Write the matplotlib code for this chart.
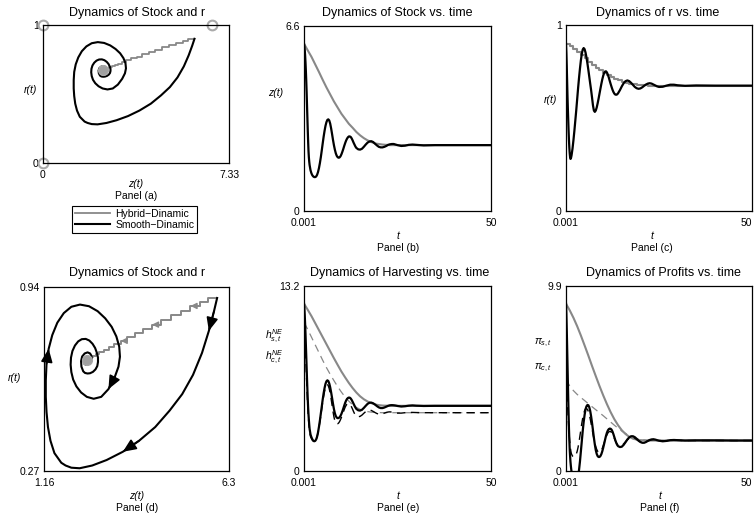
import numpy as np
import matplotlib
matplotlib.use('Agg')
import matplotlib.pyplot as plt
from matplotlib.lines import Line2D

plt.rcParams['font.family'] = ['Liberation Sans', 'DejaVu Sans']
plt.rcParams['mathtext.fontset'] = 'custom'
plt.rcParams['mathtext.rm'] = 'Liberation Sans'
plt.rcParams['mathtext.it'] = 'Liberation Sans:italic'
plt.rcParams['mathtext.bf'] = 'Liberation Sans:bold'

# ---------------- data: smooth dynamic ----------------
t_fine = [0.001, 0.1, 0.2, 0.3, 0.4, 0.5, 0.6, 0.7, 0.8, 0.9,
          1.0, 1.1, 1.2, 1.3, 1.4, 1.5, 1.75, 2.0,
          2.25, 2.5, 2.75, 3.0, 3.25, 3.5, 3.75, 4.0, 4.25, 4.5,
          4.75, 5.0, 5.25, 5.5, 5.75, 6.0, 6.25, 6.5, 6.75, 7.0,
          7.25, 7.5, 7.75, 8.0, 8.25, 8.5, 8.75, 9.0, 9.25, 9.5,
          9.75, 10.0, 10.25, 10.5, 10.75, 11.0, 11.25, 11.5, 11.75, 12.0,
          12.25, 12.5, 12.75, 13.0, 13.25, 13.5, 13.75, 14.0, 14.5, 15.0,
          15.5, 16.0, 16.5, 17.0, 17.5, 18.0, 18.5, 19.0, 19.5, 20.0,
          20.5, 21.0, 21.5, 22.0, 22.5, 23.0, 23.5, 24.0, 24.5, 25.0,
          26, 27, 28, 29, 30, 32, 35, 40, 45, 50]

z_smooth = [5.97, 5.88, 5.74, 5.55, 5.30, 5.00, 4.65, 4.25, 3.80, 3.35,
            2.90, 2.50, 2.15, 1.92, 1.76, 1.64, 1.45, 1.34,
            1.27, 1.23, 1.21, 1.21, 1.23, 1.29, 1.39, 1.53, 1.71, 1.92,
            2.16, 2.41, 2.65, 2.86, 3.04, 3.17, 3.25, 3.27, 3.23, 3.12,
            2.95, 2.75, 2.54, 2.35, 2.19, 2.06, 1.97, 1.92, 1.90, 1.91,
            1.95, 2.02, 2.11, 2.21, 2.32, 2.42, 2.51, 2.58, 2.63, 2.66,
            2.66, 2.64, 2.59, 2.52, 2.44, 2.37, 2.30, 2.25, 2.20, 2.19,
            2.22, 2.29, 2.37, 2.44, 2.48, 2.49, 2.46, 2.40, 2.34, 2.29,
            2.27, 2.27, 2.29, 2.32, 2.36, 2.38, 2.39, 2.39, 2.37, 2.35,
            2.32, 2.33, 2.36, 2.37, 2.36, 2.34, 2.35, 2.35, 2.35, 2.35]

r_smooth = [0.900, 0.850, 0.780, 0.700, 0.620, 0.550, 0.490, 0.430, 0.380, 0.340,
            0.310, 0.290, 0.280, 0.282, 0.290, 0.300, 0.335, 0.380,
            0.430, 0.485, 0.540, 0.600, 0.660, 0.715, 0.765, 0.810, 0.845, 0.868,
            0.876, 0.870, 0.852, 0.826, 0.795, 0.760, 0.723, 0.686, 0.650, 0.610,
            0.568, 0.540, 0.533, 0.540, 0.556, 0.578, 0.603, 0.630, 0.657, 0.683,
            0.707, 0.727, 0.742, 0.750, 0.751, 0.745, 0.733, 0.718, 0.700, 0.683,
            0.667, 0.652, 0.640, 0.631, 0.626, 0.625, 0.627, 0.633, 0.650, 0.670,
            0.687, 0.698, 0.702, 0.698, 0.689, 0.678, 0.667, 0.660, 0.657, 0.659,
            0.665, 0.673, 0.680, 0.685, 0.687, 0.685, 0.680, 0.675, 0.670, 0.667,
            0.668, 0.674, 0.679, 0.679, 0.676, 0.673, 0.675, 0.674, 0.674, 0.674]

hs_smooth = [11.94, 11.6, 11.1, 10.5, 9.8, 9.0, 8.2, 7.4, 6.6, 5.85,
             5.15, 4.55, 4.05, 3.65, 3.3, 3.0, 2.6, 2.4,
             2.25, 2.15, 2.12, 2.15, 2.25, 2.45, 2.75, 3.15, 3.6, 4.1,
             4.6, 5.1, 5.55, 5.92, 6.22, 6.40, 6.47, 6.42, 6.25, 5.98,
             5.62, 5.22, 4.8, 4.42, 4.12, 3.92, 3.81, 3.77, 3.78, 3.83,
             3.93, 4.07, 4.25, 4.45, 4.66, 4.86, 5.02, 5.14, 5.21, 5.24,
             5.23, 5.17, 5.07, 4.94, 4.80, 4.66, 4.53, 4.43, 4.33, 4.31,
             4.37, 4.50, 4.65, 4.79, 4.87, 4.88, 4.83, 4.74, 4.63, 4.54,
             4.49, 4.49, 4.53, 4.59, 4.65, 4.69, 4.70, 4.69, 4.67, 4.64,
             4.60, 4.62, 4.66, 4.68, 4.66, 4.64, 4.65, 4.65, 4.65, 4.65]

hc_smooth = [10.6, 10.3, 9.85, 9.3, 8.65, 7.95, 7.2, 6.5, 5.8, 5.15,
             4.6, 4.1, 3.7, 3.35, 3.05, 2.8, 2.45, 2.32,
             2.2, 2.1, 2.08, 2.12, 2.24, 2.44, 2.72, 3.08, 3.5, 3.96,
             4.44, 4.9, 5.32, 5.68, 5.96, 6.12, 6.16, 6.08, 5.87, 5.55,
             5.15, 4.7, 4.25, 3.87, 3.58, 3.42, 3.36, 3.37, 3.42, 3.52,
             3.66, 3.82, 4.0, 4.19, 4.38, 4.55, 4.68, 4.77, 4.81, 4.81,
             4.77, 4.68, 4.55, 4.40, 4.24, 4.10, 3.99, 3.92, 3.87, 3.90,
             3.99, 4.12, 4.24, 4.32, 4.35, 4.32, 4.25, 4.17, 4.10, 4.06,
             4.05, 4.08, 4.13, 4.18, 4.21, 4.22, 4.20, 4.17, 4.14, 4.13,
             4.13, 4.16, 4.18, 4.18, 4.17, 4.16, 4.16, 4.16, 4.16, 4.16]

pis_smooth = [8.95, 8.4, 7.6, 6.7, 5.75, 4.8, 3.85, 3.0, 2.25, 1.65,
              1.15, 0.8, 0.5, 0.28, 0.1, -0.05, -0.4, -0.65,
              -0.8, -0.8, -0.7, -0.5, -0.25, 0.05, 0.5, 1.05, 1.6, 2.15,
              2.62, 3.0, 3.3, 3.46, 3.53, 3.52, 3.42, 3.22, 2.93, 2.57,
              2.18, 1.78, 1.42, 1.12, 0.92, 0.80, 0.75, 0.75, 0.80, 0.90,
              1.05, 1.24, 1.45, 1.67, 1.88, 2.05, 2.17, 2.24, 2.27, 2.26,
              2.21, 2.11, 1.97, 1.81, 1.65, 1.51, 1.40, 1.33, 1.28, 1.30,
              1.40, 1.54, 1.69, 1.80, 1.86, 1.86, 1.81, 1.72, 1.62, 1.55,
              1.51, 1.51, 1.55, 1.61, 1.66, 1.69, 1.70, 1.68, 1.65, 1.62,
              1.59, 1.61, 1.65, 1.66, 1.65, 1.63, 1.64, 1.64, 1.63, 1.63]

pic_smooth = [4.9, 4.7, 4.4, 4.0, 3.6, 3.2, 2.8, 2.45, 2.12, 1.83,
              1.58, 1.37, 1.2, 1.07, 0.97, 0.9, 0.8, 0.76,
              0.76, 0.8, 0.9, 1.05, 1.27, 1.55, 1.88, 2.22, 2.55, 2.84,
              3.07, 3.23, 3.32, 3.34, 3.3, 3.19, 3.02, 2.8, 2.54, 2.26,
              1.98, 1.72, 1.49, 1.3, 1.16, 1.06, 1.01, 1.00, 1.03, 1.10,
              1.21, 1.35, 1.5, 1.65, 1.8, 1.93, 2.03, 2.09, 2.12, 2.11,
              2.06, 1.98, 1.87, 1.75, 1.63, 1.52, 1.44, 1.39, 1.35, 1.37,
              1.45, 1.56, 1.67, 1.76, 1.8, 1.8, 1.76, 1.69, 1.62, 1.57,
              1.54, 1.54, 1.57, 1.61, 1.65, 1.67, 1.68, 1.67, 1.65, 1.63,
              1.61, 1.62, 1.64, 1.65, 1.64, 1.63, 1.63, 1.63, 1.63, 1.63]

# ---------------- data: hybrid dynamic ----------------
t_hyb = [0.001, 1, 2, 3, 4, 5, 6, 7, 8, 9, 10, 11, 12, 13, 14, 15, 16, 17, 18, 19,
         20, 21, 22, 23, 24, 26, 28, 30, 35, 40, 45, 50]
z_hyb = [5.97, 5.73, 5.50, 5.23, 4.96, 4.68, 4.41, 4.16, 3.91, 3.69, 3.47, 3.29, 3.11,
         2.97, 2.82, 2.70, 2.60, 2.52, 2.46, 2.41, 2.39, 2.37, 2.36, 2.35, 2.35,
         2.35, 2.35, 2.35, 2.35, 2.35, 2.35, 2.35]
r_hyb = [0.900, 0.885, 0.871, 0.854, 0.837, 0.820, 0.803, 0.787, 0.771, 0.758, 0.744,
         0.733, 0.721, 0.712, 0.703, 0.696, 0.690, 0.685, 0.681, 0.678, 0.676, 0.675,
         0.674, 0.674, 0.674, 0.674, 0.674, 0.674, 0.674, 0.674, 0.674, 0.674]
hs_hyb = [11.94, 11.5, 11.05, 10.55, 10.05, 9.55, 9.05, 8.55, 8.05, 7.57, 7.1, 6.68, 6.28,
          5.92, 5.6, 5.33, 5.12, 4.96, 4.84, 4.75, 4.7, 4.67, 4.66, 4.65, 4.65,
          4.65, 4.65, 4.65, 4.65, 4.65, 4.65, 4.65]
hc_hyb = [10.6, 10.1, 9.55, 9.0, 8.45, 7.9, 7.38, 6.9, 6.45, 6.02, 5.63, 5.28, 4.98,
          4.73, 4.54, 4.40, 4.30, 4.24, 4.20, 4.18, 4.17, 4.16, 4.16, 4.16, 4.16,
          4.16, 4.16, 4.16, 4.16, 4.16, 4.16, 4.16]
pis_hyb = [8.95, 8.6, 8.2, 7.75, 7.25, 6.72, 6.18, 5.62, 5.08, 4.55, 4.05, 3.58, 3.15,
           2.77, 2.45, 2.18, 1.98, 1.83, 1.73, 1.68, 1.65, 1.64, 1.63, 1.63, 1.63,
           1.63, 1.63, 1.63, 1.63, 1.63, 1.63, 1.63]
pic_hyb = [4.9, 4.55, 4.3, 4.1, 3.93, 3.77, 3.6, 3.44, 3.28, 3.12, 2.96, 2.79, 2.62,
           2.45, 2.29, 2.14, 2.01, 1.9, 1.81, 1.74, 1.69, 1.66, 1.64, 1.63, 1.63,
           1.63, 1.63, 1.63, 1.63, 1.63, 1.63, 1.63]

# equilibria / markers
eq_z, eq_r = 2.35, 0.674
steady_z = [0, 0, 6.67]
steady_r = [0, 1, 1]
arrow_times = [0.2, 0.9, 3.5, 7.25]
hyb_arrow_steps = [2, 6, 10]

# ---------------- figure ----------------
W, H = 756, 519
fig = plt.figure(figsize=(W / 100, H / 100), dpi=100)
GRAY = '#888888'
BLACK = 'k'


def box(l, t, r, b):
    return [l / W, 1 - b / H, (r - l) / W, (b - t) / H]


def ftext(x, y, s, **kw):
    kw.setdefault('ha', 'center')
    kw.setdefault('va', 'center')
    fig.text(x / W, 1 - y / H, s, **kw)


TSIZE = 9
LSIZE = 7.5


def style(ax, xlim, ylim, xlabels, ylabels, right_edge=False):
    ax.set_xlim(*xlim)
    ax.set_ylim(*ylim)
    ax.set_xticks(list(xlim))
    ax.set_xticklabels(xlabels)
    ax.set_yticks(list(ylim))
    ax.set_yticklabels(ylabels)
    ax.tick_params(direction='in', length=0, labelsize=LSIZE)
    ax.tick_params(axis='x', pad=5)
    ax.tick_params(axis='y', pad=3)
    if right_edge:
        ax.get_xticklabels()[-1].set_horizontalalignment('right')
    for s in ax.spines.values():
        s.set_linewidth(0.9)


t_arr = np.array(t_fine)
zs = np.array(z_smooth)
rs = np.array(r_smooth)
zh = np.array(z_hyb)
rh = np.array(r_hyb)
# staircase path of the hybrid dynamic in the phase plane
stair_z = np.repeat(zh, 2)[1:]
stair_r = np.repeat(rh, 2)[:-1]

# ---- Panel (a)
axa = fig.add_axes(box(43, 25, 229, 163))
axa.plot(stair_z, stair_r, color=GRAY, lw=1.3, zorder=2)
axa.plot(zs, rs, color=BLACK, lw=1.5, zorder=3)
axa.plot([eq_z], [eq_r], 'o', ms=7, mfc='#a0a0a0', mec='#a8a8a8', zorder=4)
axa.plot(steady_z, steady_r, 'o', ms=7, mfc='none', mec='#aaaaaa', mew=1.5,
         clip_on=False, zorder=2)
style(axa, (0, 7.33), (0, 1), ['0', '7.33'], ['0', '1'])
ftext(137, 13, 'Dynamics of Stock and r', fontsize=TSIZE)
ftext(31, 90, 'r(t)', fontsize=LSIZE, style='italic')
ftext(136, 184, 'z(t)', fontsize=LSIZE, style='italic')
ftext(136, 196, 'Panel (a)', fontsize=LSIZE)

handles = [Line2D([], [], color=GRAY, lw=1.3), Line2D([], [], color=BLACK, lw=1.5)]
leg = fig.legend(handles, ['Hybrid\u2212Dinamic', 'Smooth\u2212Dinamic'],
                 loc='center', bbox_to_anchor=(134.5 / W, 1 - 219.5 / H),
                 fontsize=LSIZE, frameon=True, fancybox=False, edgecolor='k',
                 framealpha=1, handlelength=3.4, borderpad=0.25, labelspacing=0.12,
                 handletextpad=0.5, borderaxespad=0)
leg.get_frame().set_linewidth(0.8)

# ---- Panel (b)
axb = fig.add_axes(box(304, 26, 491, 211))
axb.plot(t_hyb, z_hyb, color=GRAY, lw=1.5)
axb.plot(t_fine, z_smooth, color=BLACK, lw=1.6)
style(axb, (0.001, 50), (0, 6.6), ['0.001', '50'], ['0', '6.6'])
ftext(397, 13, 'Dynamics of Stock vs. time', fontsize=TSIZE)
ftext(276, 93, 'z(t)', fontsize=LSIZE, style='italic')
ftext(398, 236, 't', fontsize=LSIZE, style='italic')
ftext(398, 248, 'Panel (b)', fontsize=LSIZE)

# ---- Panel (c)
axc = fig.add_axes(box(566, 25, 752, 211))
axc.plot(t_hyb, r_hyb, color=GRAY, lw=1.5, drawstyle='steps-post')
axc.plot(t_fine, r_smooth, color=BLACK, lw=1.6)
style(axc, (0.001, 50), (0, 1), ['0.001', '50'], ['0', '1'], right_edge=True)
ftext(658, 13, 'Dynamics of r vs. time', fontsize=TSIZE)
ftext(551, 100, 'r(t)', fontsize=LSIZE, style='italic')
ftext(652, 236, 't', fontsize=LSIZE, style='italic')
ftext(652, 248, 'Panel (c)', fontsize=LSIZE)

# ---- Panel (d)
axd = fig.add_axes(box(44, 287, 229, 471))
axd.plot(stair_z, stair_r, color=GRAY, lw=1.4, zorder=2)
axd.plot(zs, rs, color=BLACK, lw=1.5, zorder=3)
axd.plot([eq_z], [eq_r], 'o', ms=7, mfc='#a0a0a0', mec='#a8a8a8', zorder=4)
for ta in arrow_times:
    i = int(np.argmin(np.abs(t_arr - ta)))
    axd.annotate('', xy=(zs[i], rs[i]), xytext=(zs[i - 1], rs[i - 1]),
                 arrowprops=dict(arrowstyle='-|>,head_length=0.8,head_width=0.35',
                                 color=BLACK, lw=1.2, shrinkA=0, shrinkB=0,
                                 mutation_scale=10), zorder=5)
for k in hyb_arrow_steps:
    j = 2 * k
    axd.annotate('', xy=(stair_z[j + 1], stair_r[j + 1]), xytext=(stair_z[j], stair_r[j]),
                 arrowprops=dict(arrowstyle='-|>,head_length=0.6,head_width=0.3',
                                 color=GRAY, lw=1.0, shrinkA=0, shrinkB=0,
                                 mutation_scale=6), zorder=4)
style(axd, (1.16, 6.3), (0.27, 0.94), ['1.16', '6.3'], ['0.27', '0.94'])
ftext(137, 273, 'Dynamics of Stock and r', fontsize=TSIZE)
ftext(15, 378, 'r(t)', fontsize=LSIZE, style='italic')
ftext(137, 496, 'z(t)', fontsize=LSIZE, style='italic')
ftext(137, 508, 'Panel (d)', fontsize=LSIZE)

# ---- Panel (e)
axe = fig.add_axes(box(304, 286, 491, 471))
axe.plot(t_hyb, hs_hyb, color=GRAY, lw=1.5)
axe.plot(t_hyb, hc_hyb, color=GRAY, lw=0.9, ls=(0, (6, 4)))
axe.plot(t_fine, hs_smooth, color=BLACK, lw=1.6)
axe.plot(t_fine, hc_smooth, color=BLACK, lw=1.0, ls=(0, (6, 4)))
style(axe, (0.001, 50), (0, 13.2), ['0.001', '50'], ['0', '13.2'])
ftext(400, 273, 'Dynamics of Harvesting vs. time', fontsize=TSIZE)
ftext(274, 336, r'$h^{NE}_{s,t}$', fontsize=LSIZE)
ftext(274, 357, r'$h^{NE}_{c,t}$', fontsize=LSIZE)
ftext(398, 496, 't', fontsize=LSIZE, style='italic')
ftext(398, 508, 'Panel (e)', fontsize=LSIZE)

# ---- Panel (f)
axf = fig.add_axes(box(566, 286, 752, 471))
axf.plot(t_hyb, pis_hyb, color=GRAY, lw=1.5)
axf.plot(t_hyb, pic_hyb, color=GRAY, lw=0.9, ls=(0, (6, 4)))
axf.plot(t_fine, pis_smooth, color=BLACK, lw=1.6)
axf.plot(t_fine, pic_smooth, color=BLACK, lw=1.0, ls=(0, (6, 4)))
style(axf, (0.001, 50), (0, 9.9), ['0.001', '50'], ['0', '9.9'], right_edge=True)
ftext(663, 273, 'Dynamics of Profits vs. time', fontsize=TSIZE)
ftext(543, 343, r'$\pi_{s,t}$', fontsize=LSIZE)
ftext(543, 368, r'$\pi_{c,t}$', fontsize=LSIZE)
ftext(660, 496, 't', fontsize=LSIZE, style='italic')
ftext(660, 508, 'Panel (f)', fontsize=LSIZE)

fig.savefig('out.png', dpi=100)
